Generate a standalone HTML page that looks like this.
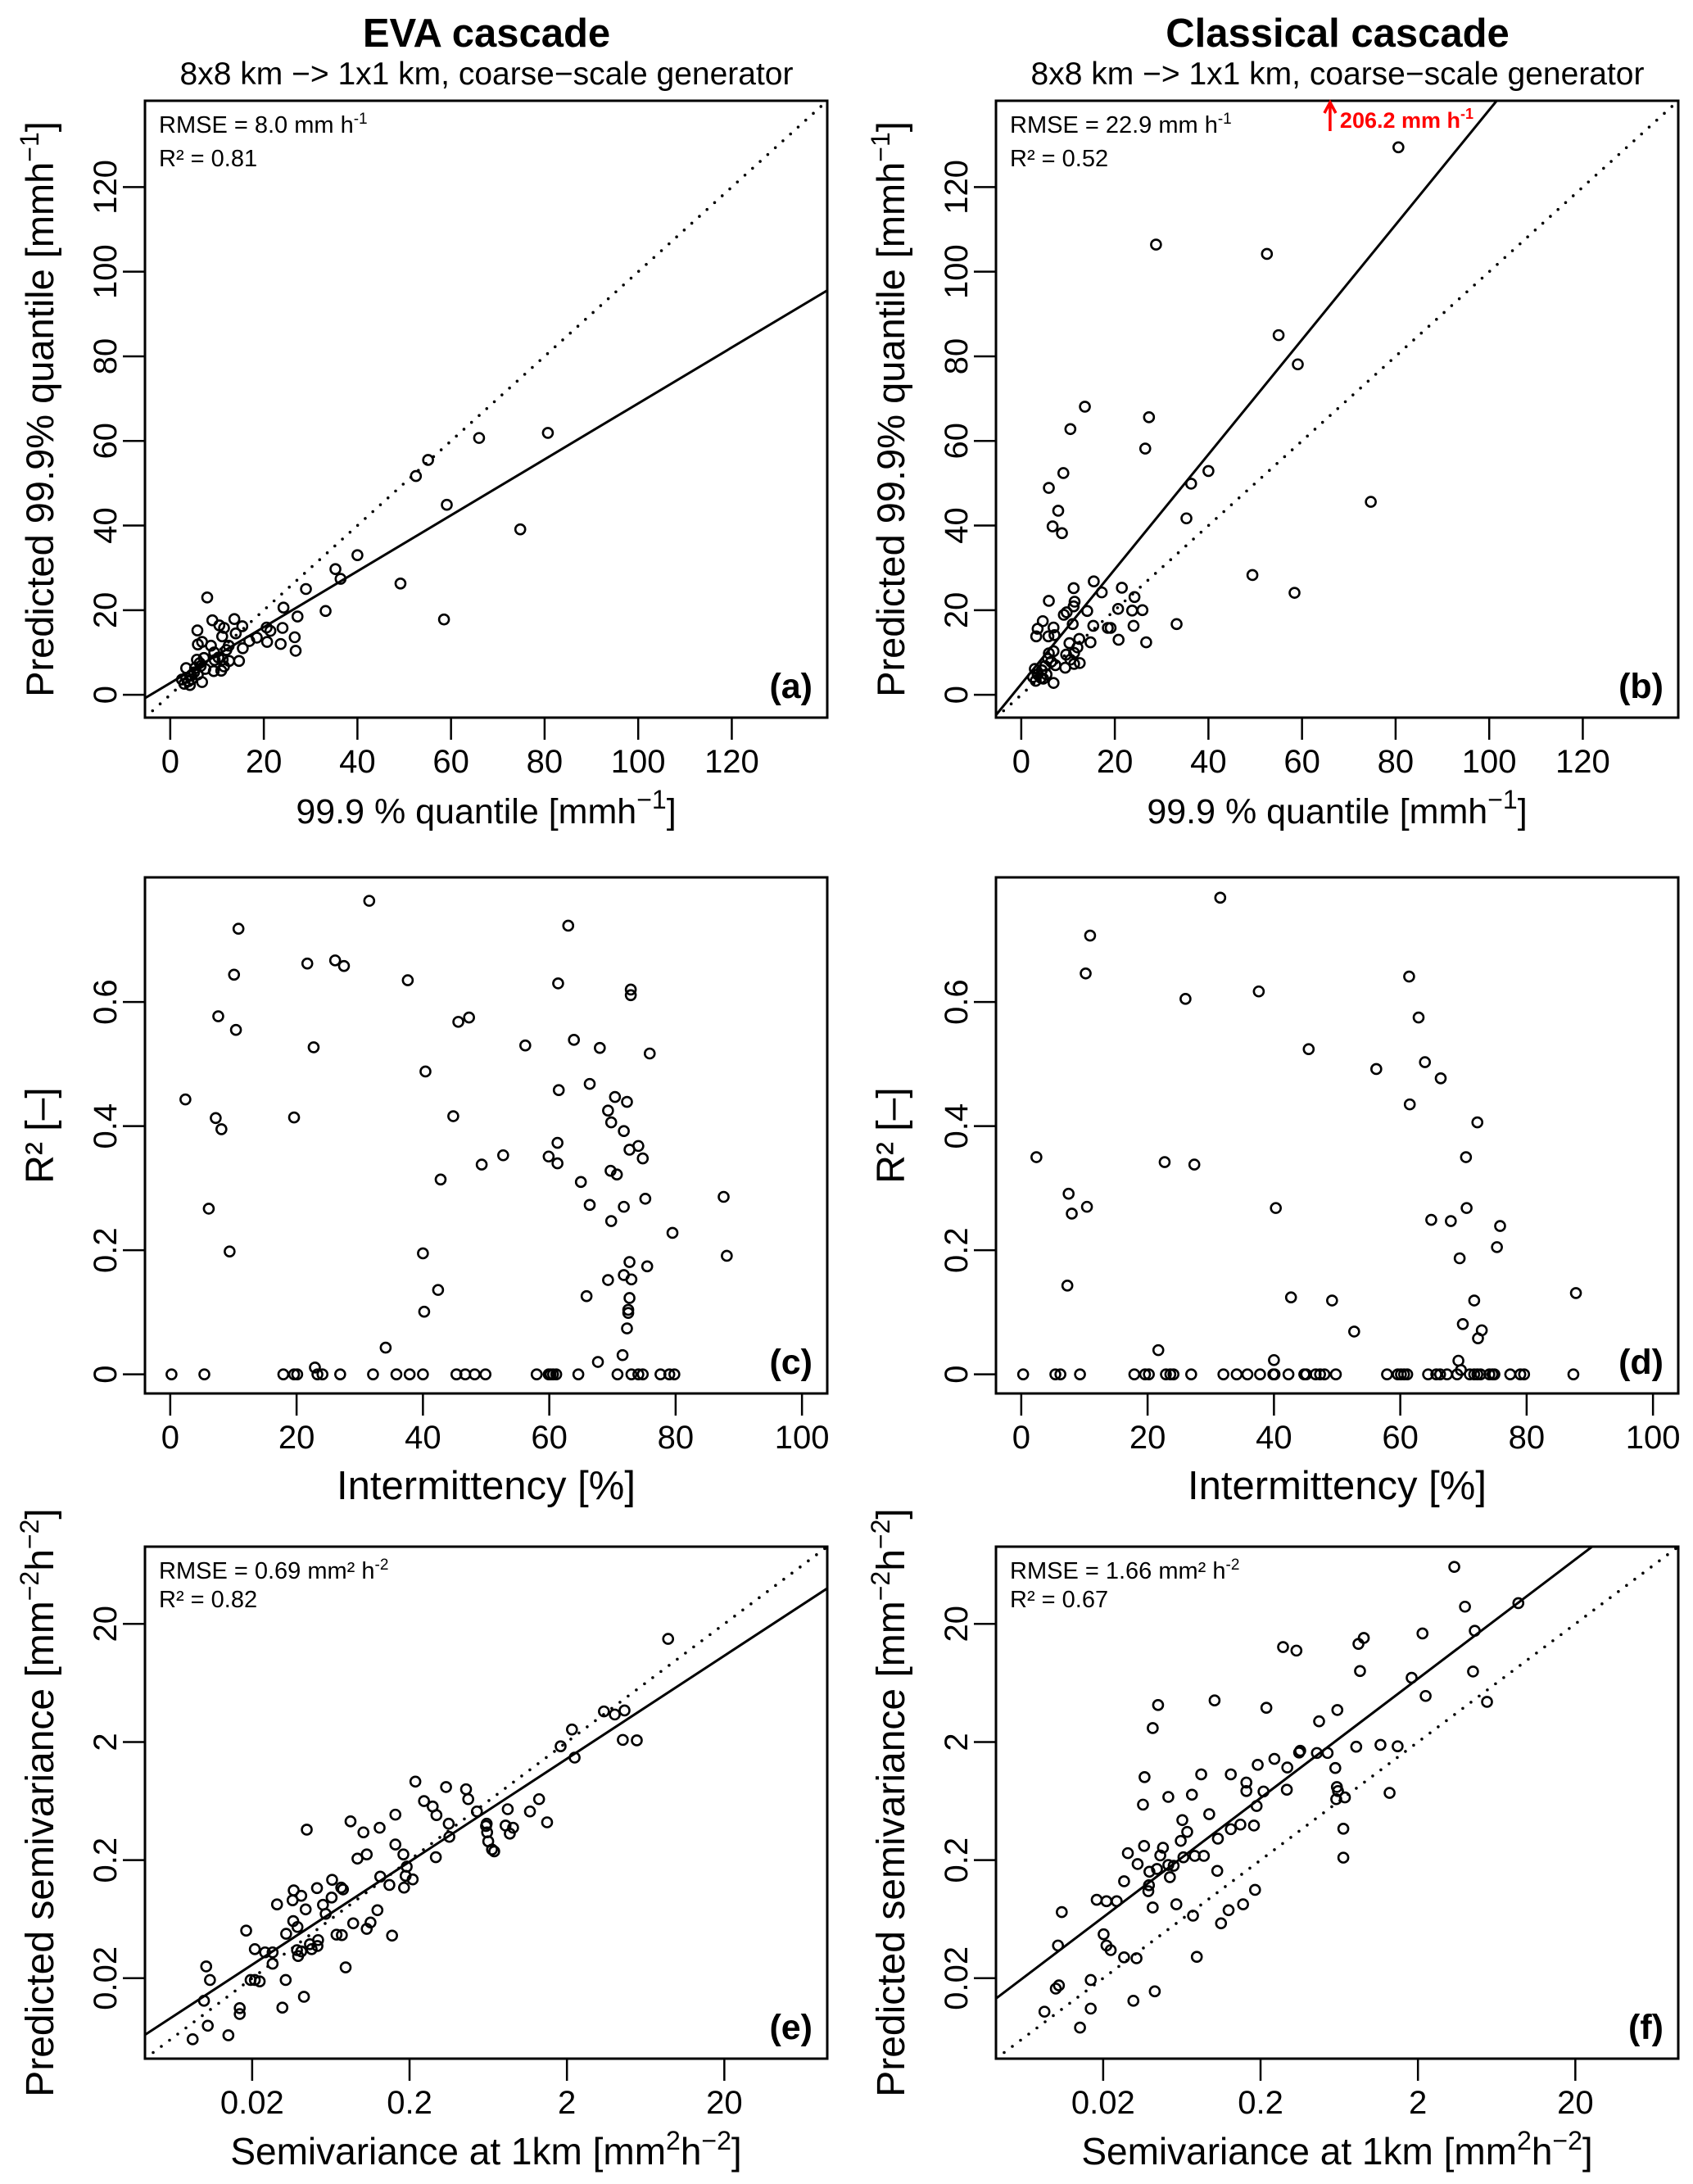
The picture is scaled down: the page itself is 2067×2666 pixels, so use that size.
<!DOCTYPE html>
<html><head><meta charset="utf-8"><title>EVA vs classical cascade</title>
<style>
html,body{margin:0;padding:0;background:#fff;}
svg{display:block;font-family:"Liberation Sans",Arial,sans-serif;}
</style></head>
<body>
<svg id="fig" width="2067" height="2666" viewBox="0 0 2067 2666" xmlns="http://www.w3.org/2000/svg">
<rect width="2067" height="2666" fill="#fff"/>
<text x="594" y="57" text-anchor="middle" font-size="49" font-weight="bold">EVA cascade</text>
<text x="594" y="103" text-anchor="middle" font-size="39">8x8 km −&gt; 1x1 km, coarse−scale generator</text>
<text x="1633" y="57" text-anchor="middle" font-size="49" font-weight="bold">Classical cascade</text>
<text x="1633" y="103" text-anchor="middle" font-size="39">8x8 km −&gt; 1x1 km, coarse−scale generator</text>
</svg>
<script>
// ---- data ----
const aObs  = [80.7,66.0,55.1,52.5,59.1,74.8,40.0,35.3,36.4,49.2,29.0,33.2,24.2,27.2,58.5,24.0,26.6,23.6,26.8,7.9,13.7,15.4,9.0,10.5,11.5,5.8,14.0,11.1,20.6,21.4,18.5,16.9,20.7,15.5,6.8,5.9,8.7,12.5,12.0,14.7,9.4,10.3,9.5,11.2,12.6,11.5,9.3,10.9,7.2,5.7,6.5,7.5,6.8,3.4,3.4,3.9,4.5,5.1,5.9,3.0,4.6,5.3,6.3,4.2,2.5];
const aPred = [61.9,60.7,55.5,51.7,44.9,39.1,33.0,29.7,27.4,26.3,25.0,19.8,20.6,18.5,17.8,15.8,13.6,12.0,10.4,23.0,17.9,16.2,17.6,16.4,15.8,15.2,14.5,13.8,15.9,15.1,13.5,12.7,12.5,11.0,12.5,11.9,11.6,11.6,10.6,8.0,10.0,8.8,8.2,8.3,8.0,6.7,5.6,5.7,8.7,8.3,6.8,6.1,3.0,6.3,4.0,3.2,4.6,5.3,4.8,2.6,3.7,6.3,7.5,2.3,3.6];
const bObs  = [80.6,28.8,52.5,55.0,59.1,13.6,27.3,10.5,26.5,40.0,9.0,36.3,5.9,7.9,35.3,74.7,6.7,8.7,49.4,58.4,15.5,11.2,21.5,17.2,24.2,11.4,5.9,9.7,14.1,20.7,23.7,25.9,11.2,9.1,4.6,33.2,15.4,24.0,18.5,19.1,11.0,6.9,3.5,3.2,5.8,7.1,12.4,20.8,26.7,14.8,10.3,12.0,11.3,9.6,10.5,12.5,11.3,9.4,6.9,5.9,5.7,6.4,7.3,5.1,4.4,2.9,3.5,4.2,3.1,4.7,6.9,5.4,2.5];
const bPred = [129.4,106.4,104.2,85.0,78.1,68.1,65.6,62.8,58.2,52.9,52.4,49.9,48.9,43.5,41.7,45.6,39.8,38.2,28.3,24.1,26.8,25.2,25.3,24.2,23.1,22.0,22.2,19.5,19.8,20.3,19.9,20.0,20.9,18.9,17.4,16.7,16.3,16.3,15.8,15.8,16.7,15.9,15.6,13.8,13.8,14.1,13.2,13.0,12.4,12.4,12.2,11.2,9.9,9.5,8.3,7.5,7.3,6.4,10.3,9.8,8.5,7.8,7.0,6.8,5.8,6.1,4.8,4.0,3.3,3.8,2.8,4.8,4.2];
const cInt = [31.5,10.8,63.0,21.7,26.1,27.5,10.1,37.6,61.4,72.9,72.9,7.6,10.4,47.3,45.6,63.9,56.2,22.7,68.0,75.9,40.4,66.4,61.5,2.4,70.4,72.3,69.3,19.6,44.8,7.2,8.1,69.8,71.8,61.3,74.1,72.7,52.7,59.9,74.8,49.3,61.3,69.7,70.7,42.8,65.0,87.6,75.2,6.1,66.4,71.8,69.8,79.5,9.4,40.0,88.1,72.7,75.5,71.8,69.3,73.0,42.4,65.9,72.7,72.5,72.5,40.2,72.3,34.1,71.6,67.7,22.9,
  0.2,5.4,17.9,19.6,20.1,23.3,24.1,26.9,32.1,35.8,37.9,40.0,45.3,46.7,48.2,49.9,58.0,59.9,60.2,60.6,61.1,64.6,70.8,73.0,74.1,74.8,77.6,79.0,79.8];
const cR2 = [0.763,0.718,0.723,0.662,0.667,0.658,0.644,0.635,0.630,0.620,0.611,0.577,0.555,0.575,0.568,0.539,0.530,0.527,0.526,0.517,0.488,0.468,0.458,0.443,0.447,0.439,0.425,0.414,0.416,0.413,0.395,0.406,0.392,0.373,0.368,0.362,0.353,0.351,0.348,0.338,0.340,0.328,0.322,0.314,0.310,0.286,0.283,0.267,0.273,0.270,0.247,0.228,0.198,0.195,0.191,0.181,0.174,0.160,0.152,0.153,0.136,0.126,0.123,0.104,0.099,0.101,0.074,0.043,0.031,0.020,0.011,
  0,0,0,0,0,0,0,0,0,0,0,0,0,0,0,0,0,0,0,0,0,0,0,0,0,0,0,0,0];
const dInt = [31.5,10.9,10.2,61.4,37.6,26.0,62.9,45.5,63.9,56.2,66.4,61.5,72.2,2.4,70.4,22.7,27.4,7.5,8.0,10.4,40.3,70.5,64.9,68.0,75.8,75.3,69.4,7.3,87.8,42.7,49.2,71.7,52.7,69.9,72.9,72.3,21.7,40.0,69.2,69.6,
  0.3,5.4,6.2,9.3,17.9,19.6,20.2,22.9,23.6,24.1,26.9,32.0,34.1,35.8,37.8,39.9,40.1,42.3,44.8,45.1,46.6,47.3,48.0,49.8,57.9,59.6,60.1,60.6,61.1,64.4,65.7,66.3,67.4,69.0,71.0,71.7,72.2,72.7,74.1,74.6,74.9,77.4,79.0,79.6,87.4];
const dR2 = [0.768,0.707,0.646,0.641,0.617,0.605,0.575,0.524,0.503,0.492,0.477,0.435,0.406,0.350,0.350,0.342,0.338,0.291,0.259,0.270,0.268,0.268,0.249,0.247,0.239,0.205,0.187,0.143,0.131,0.124,0.119,0.119,0.069,0.081,0.071,0.058,0.039,0.023,0.022,0.007,
  0,0,0,0,0,0,0,0,0,0,0,0,0,0,0,0,0,0,0,0,0,0,0,0,0,0,0,0,0,0,0,0,0,0,0,0,0,0,0,0,0,0,0,0,0];
const eObsLog10  = [0.944,0.536,0.605,0.667,0.333,0.656,0.745,0.261,0.350,-0.662,-0.467,-0.340,-0.326,-0.607,-0.552,-0.528,-0.789,-0.271,-0.075,0.124,0.066,0.175,-0.089,-0.041,-0.062,-0.209,-0.213,-0.206,-0.199,-0.175,-0.161,-0.450,-0.446,-1.074,-0.992,-0.889,-1.352,-0.789,-0.738,-0.971,-1.030,-0.532,-0.717,-0.679,-0.885,-0.724,-0.827,-0.734,-1.191,-1.133,-1.122,-1.287,-1.194,-1.387,-1.541,-1.442,-1.435,-1.249,-1.359,-1.232,-0.903,-1.057,-0.947,-0.971,-0.810,-1.737,-1.438,-1.411,-1.483,-1.163,-1.129,-1.280,-1.332,-1.284,-1.321,-1.414,-1.387,-1.407,-1.682,-1.617,-1.569,-1.569,-1.105,-1.991,-1.967,-1.709,-1.682,-1.651,-1.486,-2.005,-1.778,-1.778,-1.507,-1.370,-1.981,-1.850,-2.077];
const ePredLog10 = [1.174,0.560,0.534,0.568,0.407,0.319,0.315,0.265,0.169,-0.034,-0.080,-0.099,-0.183,-0.199,-0.245,-0.318,-0.314,-0.287,-0.268,-0.183,-0.287,-0.379,-0.406,-0.425,-0.475,-0.391,-0.410,-0.464,-0.540,-0.609,-0.625,-0.391,-0.502,-0.371,-0.464,-0.425,-0.441,-0.567,-0.651,-0.651,-0.686,-0.674,-0.755,-0.862,-0.839,-0.832,-0.909,-0.932,-0.866,-0.932,-0.947,-0.936,-1.016,-1.001,-1.074,-1.039,-0.955,-1.077,-1.116,-1.154,-1.123,-1.234,-1.227,-1.281,-1.338,-1.296,-1.215,-1.265,-1.323,-1.330,-1.334,-1.376,-1.411,-1.426,-1.453,-1.461,-1.472,-1.511,-1.453,-1.480,-1.480,-1.576,-1.607,-1.599,-1.714,-1.714,-1.714,-1.726,-1.714,-1.890,-1.952,-2.002,-1.948,-1.856,-2.101,-2.182,-2.216];
const fObsLog10  = [0.532,0.600,0.939,0.330,0.662,-0.043,-0.077,-0.556,-0.471,-0.067,0.651,0.261,0.350,0.740,-0.991,-1.350,-0.662,-0.211,-0.327,-1.384,-0.091,0.063,0.172,-0.447,-0.454,-0.341,-0.273,-0.611,-0.717,-0.529,-0.224,-1.436,-1.076,-0.888,-0.789,-0.789,-0.680,-0.532,-0.214,-0.207,0.121,-1.135,-1.285,-0.218,-0.163,-1.446,-0.724,-1.025,-1.196,-0.827,-0.741,-0.888,-0.173,-1.165,-0.970,-1.206,-1.439,-1.319,-1.542,-1.336,-1.189,-1.117,-1.059,-0.173,-1.480,-1.285,-1.251,-1.357,-1.405,-0.974,-1.275,-1.566,-1.408,-1.412,-0.734,-1.740,-1.678,-1.613,-1.234,-0.810,-1.384,-0.902,-1.128,-1.962,-0.950,-1.696,-1.986,-1.678,-1.651,-1.566,-1.487,-1.104,-1.778,-1.980,-2.000,-1.371,-1.507,-1.778,-2.072,-1.846];
const fPredLog10 = [1.784,1.447,1.477,1.220,1.243,1.182,1.132,1.105,1.075,0.902,0.898,0.845,0.691,0.641,0.653,0.614,0.591,0.572,0.476,0.419,0.261,0.277,0.265,0.227,0.212,0.208,0.208,0.158,0.108,0.085,0.081,0.004,0.027,0.027,-0.042,-0.114,-0.118,-0.103,-0.080,-0.114,-0.130,-0.145,-0.164,-0.183,-0.168,-0.229,-0.241,-0.310,-0.360,-0.398,-0.406,-0.437,-0.433,-0.460,-0.517,-0.536,-0.579,-0.594,-0.640,-0.659,-0.675,-0.663,-0.663,-0.678,-0.732,-0.740,-0.747,-0.774,-0.797,-0.790,-0.843,-0.878,-0.912,-0.962,-0.951,-1.035,-1.047,-1.047,-1.073,-1.073,-1.100,-1.123,-1.169,-1.139,-1.234,-1.327,-1.422,-1.422,-1.461,-1.522,-1.530,-1.518,-1.714,-1.760,-1.787,-1.810,-1.890,-1.956,-1.982,-2.117];
// regression fits: [intercept, slope]
const fitA = [2.77, 0.661];
const fitB = [2.53, 1.357];
const fitELog = [-0.103, 0.872];
const fitFLog = [0.533, 1.010];
const quantileTicks = [0, 20, 40, 60, 80, 100, 120];
const intermittencyTicks = [0, 20, 40, 60, 80, 100];
const r2Ticks = [0, 0.2, 0.4, 0.6];
const r2TickLabels = ["0", "0.2", "0.4", "0.6"];
const semivarTicks = [0.02, 0.2, 2, 20];
const semivarTickLabels = ["0.02", "0.2", "2", "20"];
const statsA = ["8.0", "0.81"];
const statsB = ["22.9", "0.52"];
const statsE = ["0.69", "0.82"];
const statsF = ["1.66", "0.67"];
const outlierB = [66, 206.2];

// ---- drawing ----
const NS = "http://www.w3.org/2000/svg";
const svg = document.getElementById("fig");
function el(tag, parent) { const e = document.createElementNS(NS, tag); parent.appendChild(e); return e; }
function scale(d0, d1, r0, r1) { return v => r0 + (v - d0) / (d1 - d0) * (r1 - r0); }

function panel(cfg) {
  const g = el("g", svg);
  
  
  const sx = scale(cfg.xlim[0], cfg.xlim[1], cfg.x0, cfg.x1);
  const sy = scale(cfg.ylim[0], cfg.ylim[1], cfg.y1, cfg.y0);
  const tf = cfg.log ? (v => Math.log10(v)) : (v => v);
  const clip = el("clipPath", g);
  clip.setAttribute("id", "clip-" + cfg.id);
  const cr = el("rect", clip);
  cr.setAttribute("x", cfg.x0); cr.setAttribute("y", cfg.y0);
  cr.setAttribute("width", cfg.x1 - cfg.x0); cr.setAttribute("height", cfg.y1 - cfg.y0);
  cfg.xticks.forEach((t, i) => {
    const X = sx(tf(t));
    const tk = el("line", g);
    
    
    tk.setAttribute("x1", X); tk.setAttribute("x2", X);
    tk.setAttribute("y1", cfg.y1); tk.setAttribute("y2", cfg.y1 + 27);
    tk.setAttribute("stroke", "#000"); tk.setAttribute("stroke-width", 2.5);
    const lb = el("text", g);
    
    
    lb.setAttribute("x", X); lb.setAttribute("y", cfg.y1 + 67);
    lb.setAttribute("text-anchor", "middle"); lb.setAttribute("font-size", 40);
    lb.textContent = cfg.xlabels ? cfg.xlabels[i] : String(t);
  });
  cfg.yticks.forEach((t, i) => {
    const Y = sy(tf(t));
    const tk = el("line", g);
    
    
    tk.setAttribute("x1", cfg.x0 - 27); tk.setAttribute("x2", cfg.x0);
    tk.setAttribute("y1", Y); tk.setAttribute("y2", Y);
    tk.setAttribute("stroke", "#000"); tk.setAttribute("stroke-width", 2.5);
    const lb = el("text", g);
    
    
    lb.setAttribute("x", cfg.x0 - 35); lb.setAttribute("y", Y);
    lb.setAttribute("transform", "rotate(-90 " + (cfg.x0 - 35) + " " + Y + ")");
    lb.setAttribute("text-anchor", "middle"); lb.setAttribute("font-size", 40);
    lb.textContent = cfg.ylabels ? cfg.ylabels[i] : String(t);
  });
  if (cfg.oneToOne) {
    const l = el("line", g);
    
    
    l.setAttribute("x1", sx(cfg.xlim[0])); l.setAttribute("y1", sy(cfg.xlim[0]));
    l.setAttribute("x2", sx(cfg.xlim[1])); l.setAttribute("y2", sy(cfg.xlim[1]));
    l.setAttribute("stroke", "#000"); l.setAttribute("stroke-width", 3.6);
    l.setAttribute("stroke-linecap", "round"); l.setAttribute("stroke-dasharray", "0 12.5");
    l.setAttribute("clip-path", "url(#clip-" + cfg.id + ")");
  }
  if (cfg.fit) {
    const l = el("line", g);
    
    
    const xa = cfg.xlim[0], xb = cfg.xlim[1];
    l.setAttribute("x1", sx(xa)); l.setAttribute("y1", sy(cfg.fit[0] + cfg.fit[1] * xa));
    l.setAttribute("x2", sx(xb)); l.setAttribute("y2", sy(cfg.fit[0] + cfg.fit[1] * xb));
    l.setAttribute("stroke", "#000"); l.setAttribute("stroke-width", 3);
    l.setAttribute("clip-path", "url(#clip-" + cfg.id + ")");
  }
  cfg.xs.forEach((xv, i) => {
    const c = el("circle", g);
    
    
    c.setAttribute("cx", sx(xv)); c.setAttribute("cy", sy(cfg.ys[i]));
    c.setAttribute("r", 6); c.setAttribute("fill", "none");
    c.setAttribute("stroke", "#000"); c.setAttribute("stroke-width", 2.6);
  });
  const b = el("rect", g);
  
  
  b.setAttribute("x", cfg.x0); b.setAttribute("y", cfg.y0);
  b.setAttribute("width", cfg.x1 - cfg.x0); b.setAttribute("height", cfg.y1 - cfg.y0);
  b.setAttribute("fill", "none"); b.setAttribute("stroke", "#000"); b.setAttribute("stroke-width", 3);
  const pl = el("text", g);
  
  
  pl.setAttribute("x", cfg.x1 - 18); pl.setAttribute("y", cfg.y1 - 24);
  pl.setAttribute("text-anchor", "end"); pl.setAttribute("font-size", 43); pl.setAttribute("font-weight", "bold");
  pl.textContent = "(" + cfg.id + ")";
  const xt = el("text", g);
  
  
  xt.setAttribute("x", (cfg.x0 + cfg.x1) / 2); xt.setAttribute("y", cfg.y1 + 129);
  xt.setAttribute("text-anchor", "middle"); xt.setAttribute("font-size", cfg.xfs || 48);
  xt.innerHTML = cfg.xtitle;
  const yc = (cfg.y0 + cfg.y1) / 2, xx = cfg.x0 - 112;
  const yt = el("text", g);
  
  
  yt.setAttribute("x", xx); yt.setAttribute("y", yc);
  yt.setAttribute("transform", "rotate(-90 " + xx + " " + yc + ")");
  yt.setAttribute("text-anchor", "middle"); yt.setAttribute("font-size", cfg.yfs || 48);
  yt.innerHTML = cfg.ytitle;
  if (cfg.stats) {
    const s1 = el("text", g);
    
    
    s1.setAttribute("x", cfg.x0 + 17); s1.setAttribute("y", cfg.y0 + 39);
    s1.setAttribute("font-size", 29);
    s1.innerHTML = "RMSE = " + cfg.stats[0] + " " + cfg.unit;
    const s2 = el("text", g);
    
    
    s2.setAttribute("x", cfg.x0 + 17); s2.setAttribute("y", cfg.y0 + (cfg.log ? 74 : 80));
    s2.setAttribute("font-size", 29);
    s2.textContent = "R² = " + cfg.stats[1];
  }
  return { sx, sy };
}

const sup = t => '<tspan dy="-18" font-size="32">' + t + '</tspan><tspan dy="18">';
const qx = '99.9 % quantile [mmh' + sup('−1') + ']</tspan>';
const qy = 'Predicted 99.9% quantile [mmh' + sup('−1') + ']</tspan>';
const unitQ = 'mm h<tspan dy="-11" font-size="19">-1</tspan>';
const unitS = 'mm² h<tspan dy="-11" font-size="19">-2</tspan>';
const svx = 'Semivariance at 1km [mm' + sup('2') + 'h</tspan>' + sup('−2') + ']</tspan>';
const svy = 'Predicted semivariance [mm' + sup('−2') + 'h</tspan>' + sup('−2') + ']</tspan>';
const LQ = [-5.4, 140.4], LR = [-0.0308, 0.8008], LI = [-4, 104], LS = [-2.38, 1.955];

panel({id:'a', x0:177, x1:1010, y0:123, y1:876, xlim:LQ, ylim:LQ, xs:aObs, ys:aPred, fit:fitA, oneToOne:true,
  xticks:quantileTicks, yticks:quantileTicks, xtitle:qx, ytitle:qy, stats:statsA, unit:unitQ, xfs:43, yfs:47});
const pb = panel({id:'b', x0:1216, x1:2049, y0:123, y1:876, xlim:LQ, ylim:LQ, xs:bObs, ys:bPred, fit:fitB, oneToOne:true,
  xticks:quantileTicks, yticks:quantileTicks, xtitle:qx, ytitle:qy, stats:statsB, unit:unitQ, xfs:43, yfs:47});
panel({id:'c', x0:177, x1:1010, y0:1071, y1:1701, xlim:LI, ylim:LR, xs:cInt, ys:cR2,
  xticks:intermittencyTicks, yticks:r2Ticks, ylabels:r2TickLabels, xtitle:'Intermittency [%]', ytitle:'R² [–]', xfs:49});
panel({id:'d', x0:1216, x1:2049, y0:1071, y1:1701, xlim:LI, ylim:LR, xs:dInt, ys:dR2,
  xticks:intermittencyTicks, yticks:r2Ticks, ylabels:r2TickLabels, xtitle:'Intermittency [%]', ytitle:'R² [–]', xfs:49});
panel({id:'e', log:true, x0:177, x1:1010, y0:1888, y1:2513, xlim:LS, ylim:LS, xs:eObsLog10, ys:ePredLog10, fit:fitELog, oneToOne:true,
  xticks:semivarTicks, yticks:semivarTicks, xlabels:semivarTickLabels, ylabels:semivarTickLabels, xtitle:svx, ytitle:svy, stats:statsE, unit:unitS, xfs:46});
panel({id:'f', log:true, x0:1216, x1:2049, y0:1888, y1:2513, xlim:LS, ylim:LS, xs:fObsLog10, ys:fPredLog10, fit:fitFLog, oneToOne:true,
  xticks:semivarTicks, yticks:semivarTicks, xlabels:semivarTickLabels, ylabels:semivarTickLabels, xtitle:svx, ytitle:svy, stats:statsF, unit:unitS, xfs:46});

const ax = pb.sx(outlierB[0]);
const arrow = el("path", svg);


arrow.setAttribute("d", "M" + ax + " 160 L" + ax + " 126 M" + (ax - 7) + " 138 L" + ax + " 125 L" + (ax + 7) + " 138");
arrow.setAttribute("stroke", "#f00"); arrow.setAttribute("stroke-width", 3.5); arrow.setAttribute("fill", "none");
const ot = el("text", svg);


ot.setAttribute("x", ax + 12); ot.setAttribute("y", 156);
ot.setAttribute("fill", "#f00"); ot.setAttribute("font-size", 27); ot.setAttribute("font-weight", "bold");
ot.innerHTML = outlierB[1] + ' mm h<tspan dy="-11" font-size="18">-1</tspan>';
</script>
</body></html>
